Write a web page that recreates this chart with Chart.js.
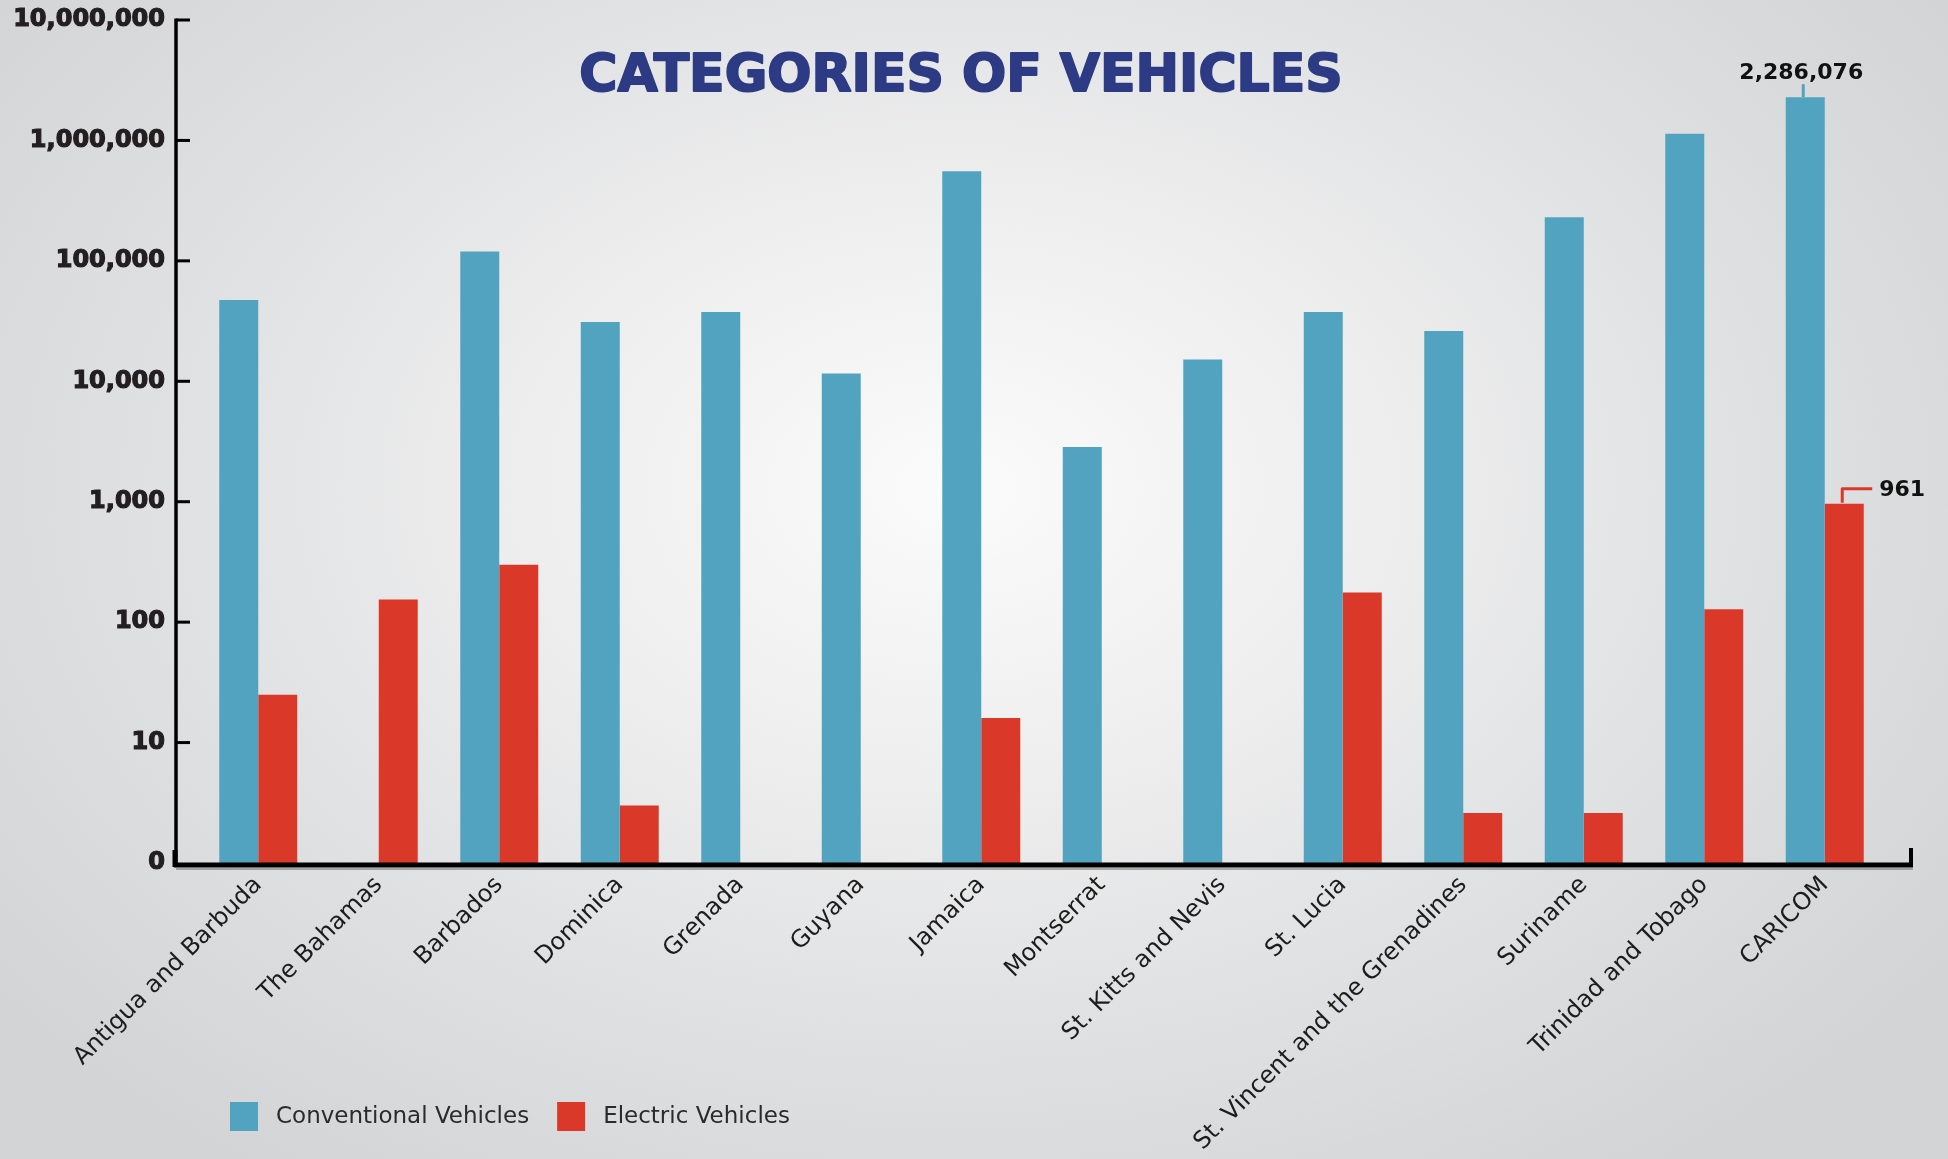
<!DOCTYPE html>
<html>
<head>
<meta charset="utf-8">
<script src="https://cdn.jsdelivr.net/npm/chart.js@4.4.1/dist/chart.umd.min.js"></script>
<style>
  html, body { margin: 0; padding: 0; width: 1948px; height: 1159px; overflow: hidden; }
  body {
    background: radial-gradient(ellipse 62% 72% at 49% 42%, #fbfbfb 0%, #eeeeef 35%, #e0e1e2 65%, #d3d4d6 100%);
  }
  #wrap { position: absolute; left: 0; top: 0; width: 1948px; height: 1159px; }
</style>
</head>
<body>
<div id="wrap"><canvas id="c" width="1948" height="1159"></canvas></div>
<script>
// ---------------- data ----------------
const categories = [
  'Antigua and Barbuda', 'The Bahamas', 'Barbados', 'Dominica', 'Grenada', 'Guyana',
  'Jamaica', 'Montserrat', 'St. Kitts and Nevis', 'St. Lucia',
  'St. Vincent and the Grenadines', 'Suriname', 'Trinidad and Tobago', 'CARICOM'
];
const conventionalVehicles = [47400, null, 119600, 31000, 37600, 11600, 556000, 2840, 15200, 37600, 26100, 229700, 1136000, 2286076];
const electricVehicles     = [25, 154, 300, 3, null, null, 16, null, null, 176, 2.6, 2.6, 128, 961];
const seriesNames  = ['Conventional Vehicles', 'Electric Vehicles'];
const seriesColors = ['#52A3BF', '#DA3829'];
const yTickValues = [1, 10, 100, 1000, 10000, 100000, 1000000, 10000000];
const yTickLabels = ['0', '10', '100', '1,000', '10,000', '100,000', '1,000,000', '10,000,000'];
const chartTitle = 'CATEGORIES OF VEHICLES';
const annotatedIndex = 13;

// ---------------- decorations plugin ----------------
const decor = {
  id: 'decor',
  afterDraw(chart) {
    const ctx = chart.ctx;
    const ca = chart.chartArea;
    const ys = chart.scales.y;
    const axisX = ca.left - 22;
    const topY = ys.getPixelForValue(yTickValues[yTickValues.length - 1]);
    const baseY = ys.getPixelForValue(yTickValues[0]) + 2;
    const rightX = ca.right + 26;
    ctx.save();
    // shadow under x axis
    ctx.strokeStyle = 'rgba(90,90,90,0.45)';
    ctx.lineWidth = 2;
    ctx.beginPath(); ctx.moveTo(axisX, baseY + 4); ctx.lineTo(rightX + 2, baseY + 4); ctx.stroke();
    // y axis
    ctx.strokeStyle = '#000';
    ctx.lineWidth = 3.5;
    ctx.beginPath(); ctx.moveTo(axisX, topY - 1.5); ctx.lineTo(axisX, baseY + 2); ctx.stroke();
    // y tick marks
    ctx.lineWidth = 3;
    yTickValues.forEach((v, i) => {
      if (i === 0) return;
      const py = ys.getPixelForValue(v);
      ctx.beginPath(); ctx.moveTo(axisX, py); ctx.lineTo(axisX + 14, py); ctx.stroke();
    });
    // bottom-left stub
    ctx.lineWidth = 5;
    ctx.beginPath(); ctx.moveTo(axisX - 1, baseY - 15); ctx.lineTo(axisX - 1, baseY + 2); ctx.stroke();
    // x axis
    ctx.lineWidth = 5;
    ctx.beginPath(); ctx.moveTo(axisX - 2, baseY); ctx.lineTo(rightX + 2, baseY); ctx.stroke();
    // right stub
    ctx.lineWidth = 4;
    ctx.beginPath(); ctx.moveTo(rightX, baseY + 2); ctx.lineTo(rightX, baseY - 17); ctx.stroke();

    // title
    ctx.fillStyle = '#2D3A84';
    ctx.strokeStyle = '#2D3A84';
    ctx.lineWidth = 2;
    ctx.lineJoin = 'round';
    ctx.font = 'bold 52px "DejaVu Sans"';
    ctx.textAlign = 'center';
    ctx.textBaseline = 'alphabetic';
    ctx.fillText(chartTitle, 961, 91);
    ctx.strokeText(chartTitle, 961, 91);

    // annotation: conventional total
    const b0 = chart.getDatasetMeta(0).data[annotatedIndex];
    ctx.strokeStyle = seriesColors[0];
    ctx.lineWidth = 3;
    ctx.beginPath(); ctx.moveTo(b0.x - 2, b0.y); ctx.lineTo(b0.x - 2, b0.y - 13); ctx.stroke();
    ctx.fillStyle = '#111';
    ctx.font = 'bold 22px "DejaVu Sans"';
    ctx.textAlign = 'center';
    ctx.fillText(conventionalVehicles[annotatedIndex].toLocaleString('en-US'), b0.x - 4, b0.y - 18);

    // annotation: electric total
    const b1 = chart.getDatasetMeta(1).data[annotatedIndex];
    ctx.strokeStyle = seriesColors[1];
    ctx.lineWidth = 3;
    ctx.beginPath();
    ctx.moveTo(b1.x - 2, b1.y - 1); ctx.lineTo(b1.x - 2, b1.y - 15); ctx.lineTo(b1.x + 28, b1.y - 15);
    ctx.stroke();
    ctx.fillStyle = '#111';
    ctx.textAlign = 'left';
    ctx.textBaseline = 'middle';
    ctx.fillText(electricVehicles[annotatedIndex].toLocaleString('en-US'), b1.x + 35, b1.y - 14);

    // legend
    ctx.font = '23px "DejaVu Sans"';
    ctx.textBaseline = 'middle';
    let lx = 230;
    const ly = 1116;
    seriesNames.forEach((name, i) => {
      ctx.fillStyle = seriesColors[i];
      ctx.fillRect(lx, ly - 14, 28, 29);
      ctx.fillStyle = '#2b2b2b';
      ctx.fillText(name, lx + 46, ly + 1);
      lx += 46 + ctx.measureText(name).width + 28;
    });
    ctx.restore();
  }
};

// ---------------- chart ----------------
new Chart(document.getElementById('c'), {
  type: 'bar',
  data: {
    labels: categories,
    datasets: [
      { label: seriesNames[0], data: conventionalVehicles, backgroundColor: seriesColors[0],
        barPercentage: 1.0, categoryPercentage: 0.647, borderWidth: 0 },
      { label: seriesNames[1], data: electricVehicles, backgroundColor: seriesColors[1],
        barPercentage: 1.0, categoryPercentage: 0.647, borderWidth: 0 }
    ]
  },
  options: {
    responsive: false,
    devicePixelRatio: 1,
    animation: false,
    layout: { padding: { top: 20, right: 63, left: 0, bottom: 0 } },
    plugins: { legend: { display: false }, tooltip: { enabled: false }, title: { display: false } },
    scales: {
      x: {
        type: 'category',
        offset: true,
        grid: { display: false, drawTicks: false },
        border: { display: false },
        ticks: {
          autoSkip: false, minRotation: 45, maxRotation: 45, padding: 8,
          color: '#1c1c1c',
          font: { family: 'DejaVu Sans', size: 24 }
        },
        afterFit(scale) { scale.height = 296; }
      },
      y: {
        type: 'logarithmic',
        min: yTickValues[0],
        max: yTickValues[yTickValues.length - 1],
        grid: { display: false, drawTicks: false },
        border: { display: false },
        afterBuildTicks(scale) { scale.ticks = yTickValues.map(v => ({ value: v, major: false })); },
        ticks: {
          autoSkip: false, padding: 33,
          color: '#231f20',
          textStrokeColor: '#231f20',
          textStrokeWidth: 1.2,
          font: { family: 'DejaVu Sans', size: 24, weight: 'bold' },
          callback: (v) => { const i = yTickValues.indexOf(v); return i >= 0 ? yTickLabels[i] : ''; }
        },
        afterFit(scale) { scale.width = 198; scale.paddingTop = 0; scale.paddingBottom = 0; }
      }
    }
  },
  plugins: [decor]
});
</script>
</body>
</html>
